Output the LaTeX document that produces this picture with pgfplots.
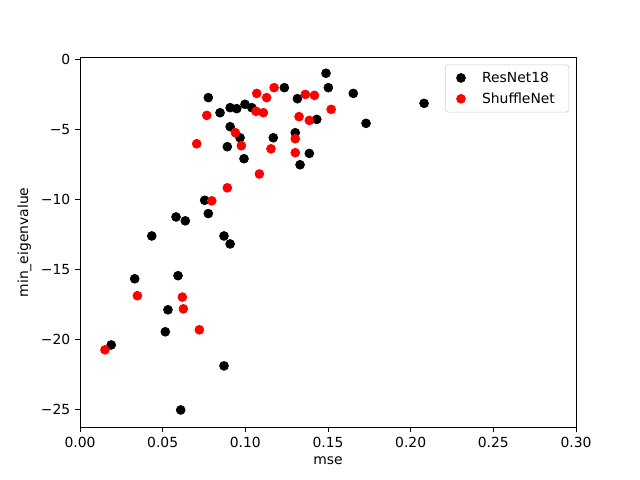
\documentclass[border=0pt]{standalone}
\usepackage{fontspec}
\setmainfont{DejaVu Sans}
\usepackage{pgfplots}
\pgfplotsset{compat=1.18}
\begin{document}
\begin{tikzpicture}
\useasboundingbox (-57.6pt,-38.02pt) rectangle (403.2pt,307.58pt);
\begin{axis}[
at={(0,0)}, anchor=south west,
scale only axis,
width=357.12pt, height=266.11pt,
xmin=0, xmax=0.30,
ymin=-26.3, ymax=0.12,
xtick={0,0.05,0.10,0.15,0.20,0.25,0.30},
xticklabel style={/pgf/number format/fixed,/pgf/number format/fixed zerofill,/pgf/number format/precision=2},
ytick={-25,-20,-15,-10,-5,0},
yticklabels={−25,−20,−15,−10,−5,0},
/pgf/number format/assume math mode=true,
scaled x ticks=false,
tick align=outside,
major tick length=3.5pt,
xtick pos=bottom, ytick pos=left,
tick style={black, line width=0.6pt},
axis line style={line width=0.6pt},
xlabel={mse}, ylabel={min\_eigenvalue},
label style={font=\normalsize},
legend cell align=left,
legend style={at={(1,1)}, anchor=north east, xshift=-5pt, yshift=-5pt,
  draw=black!20, rounded corners=2pt, fill=white,
  inner xsep=8pt, inner ysep=3pt, row sep=2pt,
  /tikz/every odd column/.append style={column sep=10pt}},
]
\addplot+[only marks, mark=*, mark size=3.2pt, color=black, mark options={fill=black, draw=black, line width=0.5pt}] coordinates {
(0.0189,-20.42) (0.0331,-15.69) (0.0434,-12.63) (0.0516,-19.48) (0.0532,-17.91)
(0.0581,-11.27) (0.0593,-15.47) (0.0609,-25.07) (0.0637,-11.55) (0.0754,-10.08)
(0.0776,-11.03) (0.0776,-2.74) (0.0847,-3.82) (0.0871,-12.63) (0.0871,-21.92)
(0.0891,-6.25) (0.0908,-3.46) (0.0908,-4.82) (0.0908,-13.2) (0.0948,-3.53)
(0.0968,-5.61) (0.0992,-7.11) (0.0998,-3.22) (0.1039,-3.46) (0.1169,-5.61)
(0.1236,-2.03) (0.1302,-5.25) (0.1315,-2.82) (0.1331,-7.54) (0.1387,-6.73)
(0.1432,-4.3) (0.1488,-1.0) (0.1502,-2.03) (0.1653,-2.44) (0.1730,-4.58)
(0.2081,-3.15)
};
\addlegendentry{ResNet18}
\addplot+[only marks, mark=*, mark size=3.2pt, color=red, mark options={fill=red, draw=red, line width=0.5pt}] coordinates {
(0.0151,-20.77) (0.0347,-16.9) (0.0619,-17.0) (0.0625,-17.84) (0.0722,-19.34)
(0.0797,-10.12) (0.0891,-9.19) (0.1085,-8.2) (0.0706,-6.04) (0.0767,-4.01)
(0.0940,-5.25) (0.0976,-6.18) (0.1069,-2.44) (0.1065,-3.72) (0.1109,-3.82)
(0.1129,-2.74) (0.1174,-2.03) (0.1155,-6.4) (0.1302,-5.68) (0.1302,-6.68)
(0.1325,-4.1) (0.1363,-2.51) (0.1418,-2.58) (0.1387,-4.37) (0.1519,-3.58)
};
\addlegendentry{ShuffleNet}
\end{axis}
\end{tikzpicture}
\end{document}
